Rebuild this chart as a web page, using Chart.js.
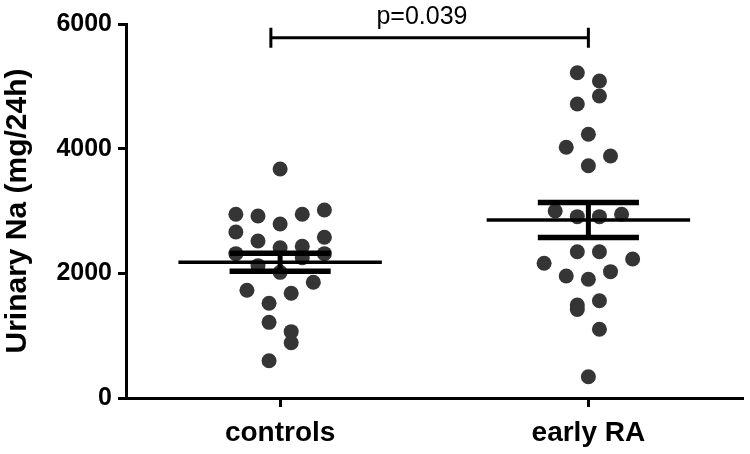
<!DOCTYPE html>
<html>
<head>
<meta charset="utf-8">
<title>Urinary Na</title>
<script src="https://cdn.jsdelivr.net/npm/chart.js@4/dist/chart.umd.min.js"></script>
<style>
    html, body { margin: 0; padding: 0; background: #fff; }
    #wrap { width: 750px; height: 454px; position: relative; }
</style>
</head>
<body>
<div id="wrap"><canvas id="chart"></canvas></div>
<script>
// --- Data ---
const categories = ['controls', 'early RA'];

const controlsValues = [3674, 2947, 2920, 2947, 3016, 2792, 2663, 2519, 2578, 2316, 2411, 2433,
    2250, 2316, 2123, 2016, 1856, 1728, 1680, 1519, 1214, 1064, 887, 598];
// horizontal column of each dot, in half dot-widths from the group centre
const controlsJitter = [0, -4, -2, 2, 4, 0, -4, -2, 4, -4, 0, 2,
    2, 4, -2, 0, 3, -3, 1, -1, -1, 1, 1, -1];

const earlyRaValues = [5219, 5086, 4845, 4717, 4231, 4022, 3883, 3727, 3000, 2909, 2909, 2947,
    2347, 2347, 2230, 2161, 2027, 1957, 1904, 1561, 1492, 1420, 1102, 342];
const earlyRaJitter = [-1, 1, 1, -1, 0, -2, 2, 0, -3, -1, 1, 3,
    -1, 1, 4, -4, 2, -2, 0, 1, -1, -1, 1, 0];

const groupMeans = [2177, 2856];
const groupSem = [145, 282];

const yTicks = [0, 2000, 4000, 6000];
const pValueText = 'p=0.039';
const bracketValue = 5780;

// --- Style ---
const FONT = '"Liberation Sans", Arial, Helvetica, sans-serif';
const DOT = '#353535';
const JITTER_STEP = 0.0359;   // half a dot spacing, in category units
const MEAN_HALF = 0.33;
const CAP_HALF = 0.164;

function toPoints(values, jitter, idx) {
    return values.map((v, i) => ({ x: idx + jitter[i] * JITTER_STEP, y: v }));
}

// mean line + SEM bars, and the significance bracket
const overlayPlugin = {
    id: 'overlay',
    afterDatasetsDraw(chart) {
        const { ctx, scales: { x, y } } = chart;
        ctx.save();
        ctx.strokeStyle = '#000';
        ctx.lineCap = 'butt';

        groupMeans.forEach((m, i) => {
            const cx = x.getPixelForValue(i);
            const ym = y.getPixelForValue(m);
            const yHi = y.getPixelForValue(m + groupSem[i]);
            const yLo = y.getPixelForValue(m - groupSem[i]);

            // stem
            ctx.lineWidth = 5;
            ctx.beginPath();
            ctx.moveTo(cx, yHi);
            ctx.lineTo(cx, yLo);
            ctx.stroke();

            // caps
            const cl = x.getPixelForValue(i - CAP_HALF);
            const cr = x.getPixelForValue(i + CAP_HALF);
            ctx.lineWidth = 5.5;
            ctx.beginPath();
            ctx.moveTo(cl, yHi); ctx.lineTo(cr, yHi);
            ctx.moveTo(cl, yLo); ctx.lineTo(cr, yLo);
            ctx.stroke();

            // mean
            ctx.lineWidth = 3.5;
            ctx.beginPath();
            ctx.moveTo(x.getPixelForValue(i - MEAN_HALF), ym);
            ctx.lineTo(x.getPixelForValue(i + MEAN_HALF), ym);
            ctx.stroke();
        });

        // bracket
        const bl = x.getPixelForValue(-0.03);
        const br = x.getPixelForValue(1);
        const by = y.getPixelForValue(bracketValue);
        ctx.lineWidth = 3;
        ctx.beginPath();
        ctx.moveTo(bl, by); ctx.lineTo(br, by);
        ctx.moveTo(bl, by - 10); ctx.lineTo(bl, by + 10);
        ctx.moveTo(br, by - 10); ctx.lineTo(br, by + 10);
        ctx.stroke();

        ctx.fillStyle = '#000';
        ctx.font = '25px ' + FONT;
        ctx.textAlign = 'center';
        ctx.textBaseline = 'alphabetic';
        ctx.fillText(pValueText, x.getPixelForValue(0.46), by - 14);
        ctx.restore();
    }
};

new Chart(document.getElementById('chart'), {
    type: 'scatter',
    data: {
        datasets: [
            { label: categories[0], data: toPoints(controlsValues, controlsJitter, 0) },
            { label: categories[1], data: toPoints(earlyRaValues, earlyRaJitter, 1) }
        ].map(ds => Object.assign(ds, {
            pointRadius: 7.5,
            pointHoverRadius: 7.5,
            pointBackgroundColor: DOT,
            pointBorderWidth: 0,
            clip: false
        }))
    },
    options: {
        responsive: true,
        maintainAspectRatio: false,
        animation: false,
        layout: { padding: { top: 24, right: 0, bottom: 0, left: 0 } },
        plugins: {
            legend: { display: false },
            tooltip: { enabled: false }
        },
        scales: {
            x: {
                type: 'linear',
                min: -0.5,
                max: 1.5,
                afterBuildTicks: s => { s.ticks = categories.map((c, i) => ({ value: i })); },
                afterFit: s => { s.height = 56; },
                border: { display: true, color: '#000', width: 3 },
                grid: { drawOnChartArea: false, tickLength: 9, color: '#000', lineWidth: 3 },
                ticks: {
                    color: '#000',
                    padding: 9,
                    maxRotation: 0,
                    font: { family: FONT, size: 28, weight: 'bold' },
                    callback: (v, i) => categories[i]
                }
            },
            y: {
                min: 0,
                max: 6000,
                afterBuildTicks: s => { s.ticks = yTicks.map(v => ({ value: v })); },
                afterFit: s => { s.width = 126; },
                border: { display: true, color: '#000', width: 3 },
                grid: { drawOnChartArea: false, tickLength: 8, color: '#000', lineWidth: 3 },
                ticks: {
                    color: '#000',
                    padding: 6,
                    font: { family: FONT, size: 25, weight: 'bold' },
                    callback: v => String(v)
                },
                title: {
                    display: true,
                    text: 'Urinary Na (mg/24h)',
                    color: '#000',
                    padding: { top: 0, bottom: 0 },
                    font: { family: FONT, size: 30, weight: 'bold' }
                }
            }
        }
    },
    plugins: [overlayPlugin]
});
</script>
</body>
</html>
